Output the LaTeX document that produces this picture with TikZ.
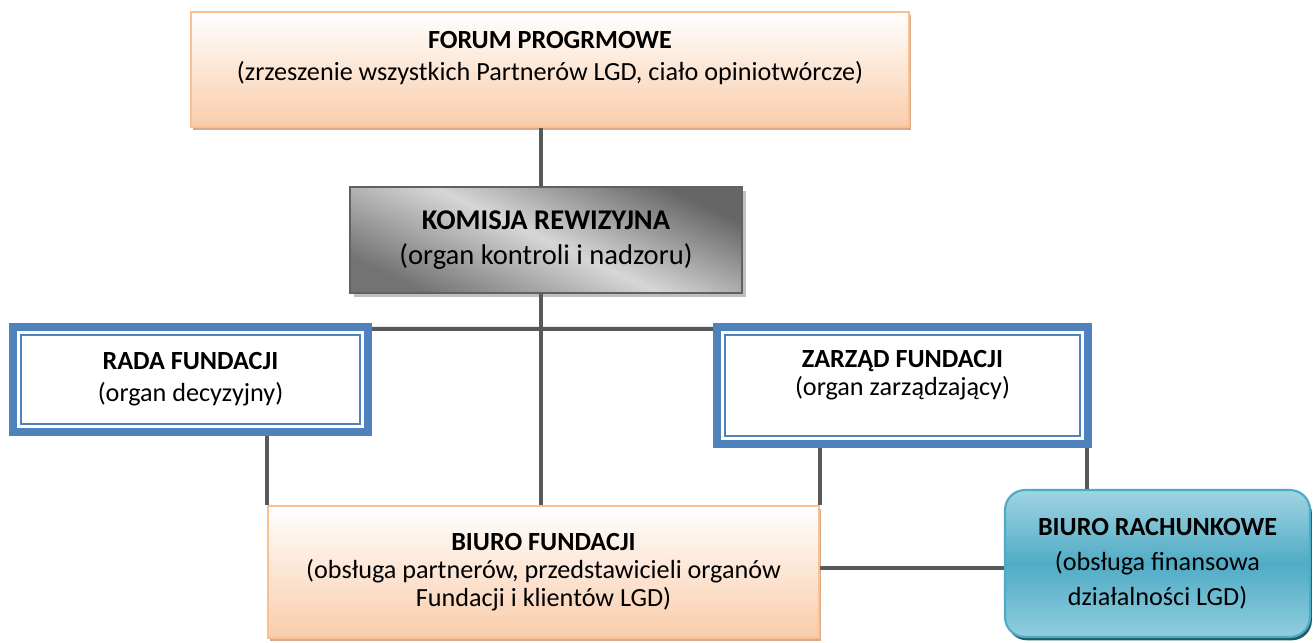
\documentclass[tikz,border=0pt]{standalone}
\usepackage{fontspec}
\setmainfont{Carlito}
\usetikzlibrary{shadows}

\definecolor{peach}{RGB}{249,204,170}
\definecolor{peachline}{RGB}{250,192,144}
\definecolor{peachshade}{RGB}{205,150,110}
\definecolor{frameblue}{RGB}{79,129,189}
\definecolor{tealline}{RGB}{75,172,198}
\definecolor{tealtop}{RGB}{160,212,226}
\definecolor{tealmid}{RGB}{80,172,198}
\definecolor{tealbot}{RGB}{145,205,222}
\definecolor{tealshade}{RGB}{33,89,104}
\definecolor{linkgray}{RGB}{89,89,89}

\newcommand{\padbelow}[1]{\\[#1]\mbox{}}

\begin{document}
\begin{tikzpicture}[x=0.42pt, y=-0.42pt,
  every node/.style={align=center, inner sep=0pt, font=\fontsize{11}{13.4}\selectfont},
  peachbox/.style={draw=peachline, line width=0.8pt, top color=white, bottom color=peach,
    drop shadow={shadow xshift=0.8pt, shadow yshift=-1.4pt, fill=peachshade, opacity=0.8}},
  graybox/.style={draw=black!62, line width=0.9pt, top color=black!60, bottom color=black!55, middle color=black!16,
    shading angle=-25,
    drop shadow={shadow xshift=1.7pt, shadow yshift=-1.7pt, fill=black!25, opacity=1},
    font=\fontsize{12}{14.7}\selectfont},
  framebox/.style={draw=frameblue, line width=3.4pt, fill=white},
  innerframe/.style={draw=frameblue, line width=0.8pt},
  roundbox/.style={draw=tealline, line width=0.9pt, rounded corners=8.4pt,
    top color=tealtop, bottom color=tealbot, middle color=tealmid,
    drop shadow={shadow xshift=0.8pt, shadow yshift=-1.4pt, fill=tealshade, opacity=1}},
  link/.style={draw=linkgray, line width=1.7pt}]
  \useasboundingbox (0,0) rectangle (1313,643);

  % boxes
  \node[peachbox, minimum width=301.6pt, minimum height=48.3pt] (forum) at (550,69.5)
    {\textbf{FORUM PROGRMOWE}\\(zrzeszenie wszystkich Partnerów LGD, ciało opiniotwórcze)\padbelow{-2.1pt}};
  \node[graybox, minimum width=164.6pt, minimum height=44.5pt] (komisja) at (546,240)
    {\textbf{KOMISJA REWIZYJNA}\\(organ kontroli i nadzoru)};
  \node[framebox, minimum width=149.1pt, minimum height=44.1pt] (rada) at (190.5,379.5)
    {\textbf{RADA FUNDACJI}\\(organ decyzyjny)};
  \node[framebox, minimum width=155.8pt, minimum height=49.1pt] (zarzad) at (902.5,385.5)
    {\textbf{ZARZĄD FUNDACJI}\\[-1.6pt](organ zarządzający)\padbelow{-2.9pt}};
  \node[peachbox, minimum width=231.4pt, minimum height=55.4pt] (biuro) at (543.5,572)
    {\textbf{BIURO FUNDACJI}\\[-1.6pt](obsługa partnerów, przedstawicieli organów\\[-1.6pt]Fundacji i klientów LGD)};
  \node[roundbox, minimum width=128.1pt, minimum height=61.7pt] (rachunek) at (1157.5,563.5)
    {\textbf{BIURO RACHUNKOWE}\\[1.3pt](obsługa finansowa\\[1.3pt]działalności LGD)};

  % inner lines of the double frames
  \draw[innerframe] ([xshift=5.1pt,yshift=5.1pt]rada.south west) rectangle ([xshift=-5.1pt,yshift=-5.1pt]rada.north east);
  \draw[innerframe] ([xshift=5.1pt,yshift=5.1pt]zarzad.south west) rectangle ([xshift=-5.1pt,yshift=-5.1pt]zarzad.north east);

  % connectors
  \draw[link] ([xshift=-2pt]komisja.north) -- ([xshift=-2pt]komisja.north |- forum.south);
  \draw[link] ([xshift=-2pt]komisja.south) -- ([xshift=-2pt]komisja.south |- biuro.north);
  \draw[link] ([yshift=-2.5pt]rada.north east) -- ([yshift=-2.5pt]zarzad.north west);
  \draw[link] (biuro.north west |- rada.south) -- (biuro.north west);
  \draw[link] (biuro.north east |- zarzad.south) -- (biuro.north east);
  \draw[link] ([xshift=-2pt]zarzad.south east) -- ([xshift=-2pt]zarzad.south east |- rachunek.north);
  \draw[link] ([yshift=1.7pt]biuro.east) -- ([yshift=1.7pt]biuro.east -| rachunek.west);
\end{tikzpicture}
\end{document}
